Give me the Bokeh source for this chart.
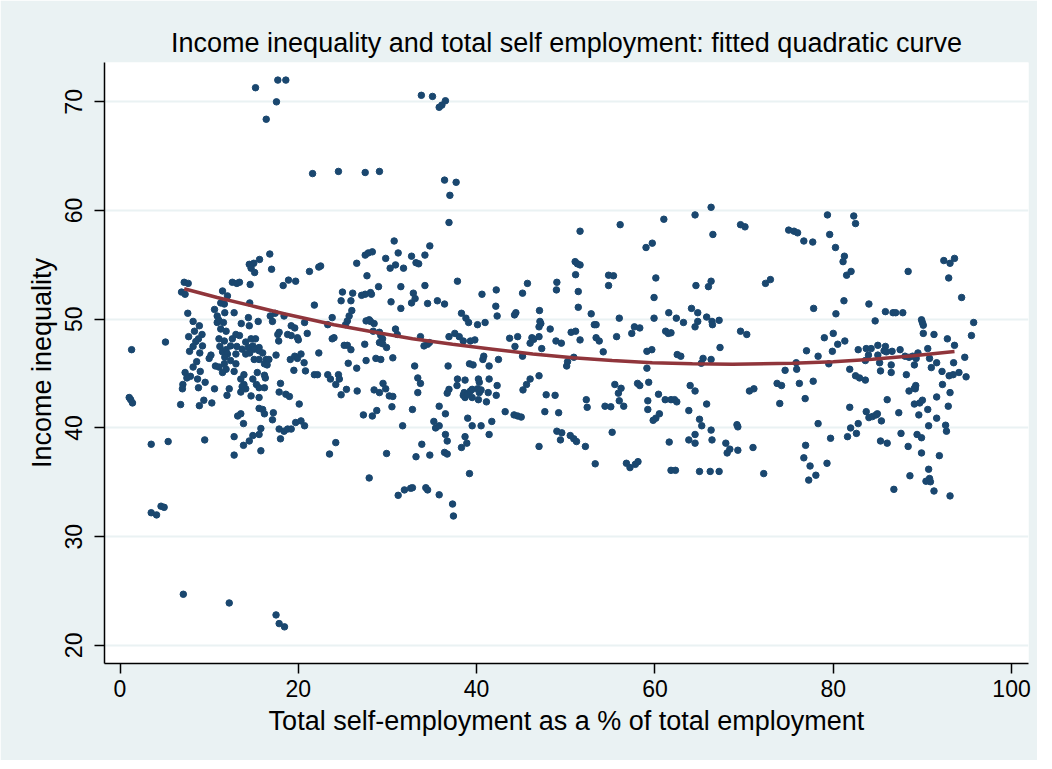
from bokeh.plotting import figure
from bokeh.models import FixedTicker, Range1d
from bokeh.embed import file_html
from bokeh.resources import INLINE

# ---- data (self-employment %, income inequality) ----
top_outliers = [(15.2, 71.3), (17.7, 72.0), (18.6, 72.0), (17.55, 70.0), (16.4, 68.4), (33.8, 70.6),
                (35.05, 70.5), (35.8, 69.5), (36.1, 69.7), (36.5, 70.1), (21.6, 63.4), (24.5, 63.6),
                (27.5, 63.5), (29.1, 63.6), (36.4, 62.8), (37.7, 62.6), (37.0, 61.4), (36.9, 58.9),
                (51.6, 58.1), (56.1, 58.7), (61.0, 59.2), (64.5, 59.6), (66.3, 60.3), (66.5, 57.8)]

group_0_11 = [(7.2, 53.4), (7.65, 53.3), (6.9, 52.5), (7.3, 52.3), (7.6, 50.55), (8.2, 49.8), (8.9, 49.4),
              (8.35, 48.9), (7.7, 48.4), (9.2, 48.6), (8.8, 48.2), (8.5, 47.95), (8.2, 47.5), (9.25, 47.55),
              (7.8, 47.05), (8.95, 46.9), (5.1, 47.9), (1.3, 47.2), (8.6, 46.1), (8.2, 45.6), (7.3, 45.1),
              (7.9, 44.75), (7.5, 44.6), (9.0, 45.2), (8.7, 44.5), (7.05, 44.0), (7.0, 43.6), (9.55, 44.2),
              (8.8, 43.7), (10.0, 46.4), (10.2, 46.7), (10.7, 45.7), (10.6, 43.6), (1.03, 42.8), (1.2, 42.6),
              (1.4, 42.3), (6.8, 42.15), (8.9, 42.05), (9.4, 42.55), (10.3, 42.3), (3.5, 38.5), (5.4, 38.75),
              (9.5, 38.9), (10.6, 50.9), (10.9, 49.7)]

group_11_24 = [(16.8, 56.0), (15.65, 55.5), (14.5, 55.05), (15.0, 55.15), (14.7, 54.7), (15.1, 54.3), (17.0, 54.6),
               (22.5, 54.9), (22.3, 54.8), (21.25, 54.4), (12.6, 53.4), (13.1, 53.3), (13.4, 53.4), (14.6, 53.2),
               (18.9, 53.6), (18.3, 53.1), (19.7, 53.5), (11.5, 52.6), (12.05, 52.15), (11.3, 51.5), (11.7, 51.4),
               (14.55, 51.5), (21.8, 51.3), (12.8, 50.6), (11.75, 50.6), (10.9, 50.3), (11.1, 49.9), (14.4, 50.15),
               (16.85, 50.3), (17.1, 49.8), (18.4, 50.3), (19.2, 49.4), (19.6, 49.2), (20.7, 49.7), (15.5, 49.8),
               (13.6, 49.6), (14.5, 49.4), (11.6, 49.7), (11.3, 49.1), (11.9, 48.9), (17.85, 48.8), (17.7, 48.6),
               (18.8, 48.6), (19.2, 48.5), (19.9, 48.3), (20.0, 48.1), (21.0, 48.7), (17.8, 48.0), (11.1, 48.2),
               (11.7, 48.0), (12.6, 48.2), (13.0, 48.6), (13.4, 48.5), (14.1, 47.9), (14.7, 48.2), (15.2, 48.2),
               (12.4, 47.55), (13.1, 47.5), (11.2, 47.5), (11.5, 47.0), (11.9, 47.2), (14.4, 47.4), (14.9, 47.55),
               (15.6, 47.4), (15.05, 47.25), (13.7, 47.25), (15.6, 47.1), (16.0, 46.9), (12.05, 46.8), (13.0, 46.8),
               (11.75, 46.5), (14.1, 46.8), (14.55, 46.9), (15.05, 46.3), (15.6, 46.3), (16.4, 46.3), (16.7, 46.3),
               (17.5, 46.7), (19.1, 46.3), (19.6, 46.6), (19.9, 46.4), (20.3, 46.8), (22.3, 46.9), (11.7, 45.9),
               (13.0, 45.9), (12.4, 46.2), (16.2, 45.9), (16.5, 45.8), (20.65, 46.0), (11.1, 45.6), (11.9, 45.4),
               (12.8, 45.2), (11.5, 45.1), (15.4, 45.1), (16.2, 44.85), (16.3, 44.6), (13.9, 44.9), (13.55, 44.5),
               (19.5, 45.3), (20.8, 45.25), (21.8, 44.9), (22.15, 44.9), (23.3, 44.9), (23.6, 44.5), (14.9, 44.5),
               (15.3, 44.0), (15.6, 43.7), (13.9, 44.0), (14.1, 43.6), (13.7, 43.8), (13.55, 43.3), (12.25, 43.6),
               (12.0, 43.0), (14.7, 42.95), (15.6, 42.8), (16.2, 43.7), (18.0, 44.1), (17.85, 43.3), (18.6, 43.1),
               (19.0, 42.9), (20.1, 42.2), (13.55, 41.3), (13.2, 41.1), (15.6, 41.8), (16.0, 41.7), (16.2, 41.3),
               (17.2, 41.4), (17.1, 40.75), (19.7, 40.5), (20.3, 40.65), (20.7, 40.2), (13.85, 40.4), (15.8, 39.95),
               (17.85, 39.9), (18.4, 39.7), (18.8, 39.9), (19.2, 39.9), (12.8, 39.2), (14.9, 39.3), (15.6, 39.4),
               (14.5, 38.8), (13.85, 38.4), (18.0, 39.0), (15.8, 37.9), (12.8, 37.5), (23.5, 37.6), (24.2, 38.65),
               (23.8, 48.2), (24.0, 48.3), (23.3, 49.5), (23.8, 50.15), (17.4, 50.55)]

group_24_37 = [(30.75, 57.2), (34.75, 56.75), (27.5, 55.9), (27.85, 56.1), (28.3, 56.2), (26.55, 55.15), (29.8, 55.6),
               (31.2, 56.1), (32.7, 55.8), (34.2, 55.9), (30.9, 55.0), (30.3, 54.7), (31.8, 54.7), (33.2, 55.2),
               (33.5, 55.1), (27.7, 54.0), (29.0, 53.0), (31.5, 53.0), (34.2, 53.1), (24.95, 52.5), (24.8, 51.7),
               (26.1, 52.4), (25.9, 51.7), (27.1, 52.2), (27.5, 52.3), (28.1, 52.45), (28.2, 52.3), (30.4, 51.6),
               (31.5, 51.0), (32.9, 52.4), (33.1, 51.9), (32.7, 51.5), (34.5, 51.45), (35.6, 51.7), (36.4, 51.4),
               (26.0, 50.8), (25.7, 50.3), (25.5, 49.85), (25.3, 49.5), (27.6, 49.85), (27.95, 49.95), (28.5, 49.6),
               (28.1, 49.8), (28.4, 48.9), (29.1, 48.8), (29.25, 48.5), (29.45, 48.2), (29.1, 47.85), (29.45, 47.75),
               (29.9, 47.4), (30.9, 49.1), (31.1, 48.6), (33.7, 48.4), (34.1, 47.55), (34.5, 47.7), (34.7, 47.85),
               (36.9, 48.4), (25.15, 47.6), (25.5, 47.6), (25.9, 47.2), (27.45, 47.7), (27.6, 46.2), (28.7, 46.4),
               (29.25, 46.3), (30.6, 46.45), (25.6, 45.95), (26.55, 45.5), (33.05, 45.7), (36.8, 45.7), (24.5, 44.9),
               (24.6, 44.5), (24.2, 44.0), (33.4, 44.6), (33.7, 44.1), (29.5, 44.1), (29.8, 43.6), (28.5, 43.5),
               (29.1, 43.25), (25.4, 43.55), (24.8, 43.05), (26.6, 43.4), (30.2, 42.95), (30.6, 42.9), (33.4, 43.25),
               (36.9, 43.55), (36.7, 43.2), (30.5, 41.95), (32.8, 41.7), (35.8, 42.0), (36.5, 41.3), (27.3, 41.2),
               (28.3, 41.1), (28.8, 41.6), (31.7, 40.2), (35.2, 40.6), (35.4, 40.0), (35.8, 40.2), (36.5, 39.4),
               (36.7, 38.8), (33.85, 38.5), (29.9, 37.65), (33.2, 37.35), (34.75, 37.5), (36.4, 37.75), (36.7, 37.6)]

low_outliers = [(27.95, 35.4), (31.2, 33.8), (31.9, 34.3), (32.6, 34.45), (32.8, 34.5), (34.3, 34.5), (34.5, 34.3),
                (35.8, 33.85), (3.5, 32.2), (4.1, 32.0), (4.6, 32.8), (4.95, 32.7), (7.1, 24.7), (12.25, 23.9),
                (17.5, 22.8), (17.85, 22.0), (18.45, 21.7), (37.3, 33.0), (37.4, 31.9), (39.2, 35.8)]

group_37_68_upper = [(37.85, 53.5), (38.3, 50.55), (38.8, 50.1), (39.1, 49.7), (40.1, 49.5), (40.95, 49.7), (40.6, 52.3),
                     (42.2, 52.7), (42.15, 51.2), (42.3, 50.3), (37.55, 48.7), (38.05, 48.4), (38.5, 48.0), (39.2, 45.9),
                     (39.6, 45.8), (39.3, 48.0), (39.8, 48.1), (40.8, 46.6), (40.7, 46.3), (41.4, 45.7), (42.45, 46.3),
                     (43.7, 48.25), (44.6, 48.4), (44.3, 47.5), (44.25, 50.4), (44.4, 50.6), (45.15, 52.4), (45.7, 53.3),
                     (45.15, 46.6), (46.2, 48.3), (46.0, 47.8), (46.4, 48.15), (47.0, 48.4), (47.05, 50.8), (47.1, 49.8),
                     (47.0, 49.3), (47.2, 49.6), (47.3, 47.3), (48.25, 49.1), (48.9, 48.0), (49.5, 47.8), (49.0, 53.4),
                     (48.95, 52.7), (50.1, 45.7), (50.2, 46.1), (50.6, 48.8), (51.1, 48.9), (50.9, 46.5), (51.6, 48.1),
                     (51.05, 55.3), (51.3, 55.1), (51.6, 55.0), (51.1, 54.1), (51.4, 52.55), (51.4, 51.1), (52.85, 50.5),
                     (53.2, 49.5), (53.4, 49.5), (53.4, 48.3), (53.75, 48.0), (54.2, 47.0), (54.8, 54.05), (55.35, 54.0),
                     (54.8, 53.1), (56.0, 50.1), (55.7, 48.4), (57.4, 48.7), (57.7, 49.3), (58.3, 49.2), (59.0, 56.6),
                     (59.7, 57.0), (60.1, 53.8), (59.9, 52.0), (59.9, 50.1), (59.1, 47.05), (59.65, 47.2), (59.1, 45.5),
                     (61.2, 48.9), (61.5, 48.7), (61.8, 48.75), (61.55, 50.6), (62.4, 50.1), (63.2, 49.7), (62.5, 46.75),
                     (62.9, 46.6), (64.1, 51.0), (64.8, 50.6), (64.5, 49.3), (64.8, 49.8), (64.6, 53.1), (66.0, 53.0),
                     (66.3, 53.5), (65.8, 50.2), (66.4, 49.8), (66.45, 49.5), (67.2, 49.9), (67.3, 47.4), (65.4, 46.4),
                     (66.3, 46.3), (65.2, 45.95)]

group_37_68_lower = [(37.85, 44.5), (37.8, 43.9), (38.7, 44.4), (38.6, 43.25), (38.5, 43.0), (38.7, 42.8), (39.0, 43.1),
                     (39.3, 43.4), (39.5, 43.55), (40.1, 43.6), (40.3, 43.25), (40.5, 43.5), (40.2, 42.6), (39.5, 42.8),
                     (40.3, 44.2), (40.2, 44.5), (41.4, 44.5), (42.3, 43.9), (41.3, 43.25), (41.1, 42.4), (42.2, 43.0),
                     (41.7, 40.6), (39.0, 40.9), (39.5, 40.2), (40.5, 40.2), (41.4, 39.4), (38.7, 39.2), (38.9, 38.6),
                     (38.3, 38.2), (43.2, 41.5), (44.2, 41.2), (44.6, 41.1), (45.0, 41.0), (45.2, 43.5), (45.6, 44.0),
                     (46.0, 44.5), (47.0, 44.8), (47.8, 43.05), (48.8, 43.0), (47.65, 41.5), (49.2, 41.4), (49.0, 39.7),
                     (49.55, 39.55), (49.4, 38.9), (50.5, 39.3), (50.9, 39.0), (51.2, 38.75), (47.0, 38.3), (52.2, 38.3),
                     (53.3, 36.7), (52.3, 42.6), (52.4, 41.9), (54.4, 42.0), (55.05, 41.95), (55.2, 39.6), (55.5, 44.0),
                     (55.9, 43.2), (56.2, 43.65), (56.0, 42.5), (56.5, 42.0), (56.8, 36.75), (57.2, 36.35), (57.8, 36.65),
                     (58.1, 36.9), (58.05, 44.1), (58.3, 43.9), (59.3, 44.2), (59.2, 42.5), (59.2, 41.7), (60.4, 43.1),
                     (59.8, 40.7), (60.1, 40.9), (60.5, 41.3), (61.15, 42.6), (61.8, 42.6), (62.2, 42.6), (62.45, 42.4),
                     (61.6, 38.7), (61.8, 36.1), (62.3, 36.1), (63.8, 41.6), (63.95, 43.9), (64.5, 43.4), (65.8, 42.2),
                     (65.0, 40.8), (65.25, 40.2), (63.8, 38.9), (64.5, 39.4), (64.5, 38.6), (66.3, 39.8), (66.4, 38.9),
                     (65.0, 36.0), (66.2, 36.0), (67.2, 36.0), (67.95, 38.6), (68.1, 37.7), (68.4, 38.05)]

group_68_96_upper = [(69.6, 58.7), (70.1, 58.5), (75.0, 58.2), (75.6, 58.1), (76.0, 57.95), (76.7, 57.2), (77.7, 57.1),
                     (79.35, 59.6), (79.6, 57.8), (80.25, 56.6), (81.25, 55.8), (81.1, 55.3), (81.5, 54.05), (82.0, 54.4),
                     (82.3, 59.5), (82.5, 58.8), (72.4, 53.3), (72.95, 53.65), (88.4, 54.4), (92.4, 55.4), (93.1, 55.15),
                     (93.6, 55.6), (92.95, 53.8), (94.4, 52.0), (81.2, 51.7), (84.0, 51.4), (77.8, 51.0), (80.3, 50.5),
                     (85.85, 50.7), (86.7, 50.6), (87.0, 50.6), (87.8, 50.6), (84.7, 49.85), (89.9, 49.95), (90.0, 49.7),
                     (90.1, 49.45), (95.75, 49.7), (95.5, 48.5), (69.6, 48.9), (70.3, 48.6), (79.0, 48.3), (80.0, 48.7),
                     (80.5, 47.7), (81.3, 48.0), (79.9, 47.05), (77.0, 47.1), (78.3, 46.6), (90.1, 48.7), (91.3, 48.6),
                     (92.8, 48.2), (93.6, 47.6), (90.6, 47.3), (82.8, 47.2), (83.7, 47.3), (84.25, 47.3), (85.0, 47.6),
                     (85.85, 47.5), (86.6, 47.05), (87.5, 47.2), (83.95, 46.7), (85.0, 46.7), (85.7, 47.1), (85.95, 47.0),
                     (88.05, 46.6), (88.5, 46.5), (88.9, 46.6), (89.5, 46.9), (89.3, 46.4), (90.8, 46.4), (94.75, 46.5),
                     (83.6, 46.2), (85.2, 46.0), (86.5, 45.8), (89.1, 45.8), (91.6, 46.0), (91.0, 45.55), (93.5, 46.0),
                     (75.85, 46.0), (75.9, 45.4), (74.6, 45.3), (79.5, 45.9), (81.85, 45.4), (85.3, 45.25), (86.5, 45.1),
                     (88.2, 44.9), (92.2, 45.2), (94.1, 45.1), (93.0, 44.8), (93.45, 44.9), (94.9, 44.7), (82.5, 44.8),
                     (82.95, 44.6), (83.6, 44.4), (73.7, 44.1), (74.2, 43.9), (76.2, 44.1), (77.75, 44.3), (70.6, 43.4),
                     (71.1, 43.6), (92.25, 44.0), (89.25, 43.9), (89.2, 43.6), (88.5, 43.4), (93.1, 43.25)]

group_68_96_lower = [(74.0, 42.25), (76.85, 42.7), (69.2, 40.3), (69.3, 40.1), (69.3, 37.95), (71.0, 38.2), (72.2, 35.8),
                     (78.3, 40.4), (76.9, 38.4), (76.7, 37.25), (77.4, 36.5), (77.25, 35.2), (78.05, 35.65), (79.3, 36.75),
                     (79.7, 39.05), (81.85, 41.9), (81.95, 40.0), (81.6, 39.2), (82.6, 39.5), (82.8, 40.4), (83.7, 41.5),
                     (84.0, 40.95), (84.4, 41.05), (84.8, 41.2), (84.95, 41.3), (85.4, 40.65), (86.05, 42.6), (87.35, 41.4),
                     (85.3, 38.8), (86.05, 38.6), (87.6, 39.5), (88.4, 38.3), (86.8, 34.35), (88.6, 35.6), (89.1, 43.65),
                     (89.1, 42.2), (89.7, 42.3), (90.0, 42.55), (89.6, 41.2), (90.6, 41.7), (89.4, 39.4), (89.9, 39.1),
                     (89.9, 37.7), (90.7, 40.2), (91.6, 42.85), (92.9, 42.0), (91.6, 40.9), (92.6, 40.25), (92.7, 39.7),
                     (91.9, 37.45), (90.7, 36.2), (90.4, 35.1), (90.8, 35.35), (90.9, 35.05), (91.3, 34.2), (93.1, 33.75)]

# fitted quadratic curve
curve_x = [7.2, 10.9, 14.7, 18.4, 24.0, 28.3, 32.8, 37.3, 41.8, 46.3, 50.8, 55.2, 59.7, 64.2, 68.7, 75.4, 80.0, 84.4, 89.0, 93.6]
curve_y = [52.8, 52.0, 51.25, 50.5, 49.5, 48.85, 48.2, 47.7, 47.25, 46.8, 46.45, 46.2, 46.0, 45.9, 45.87, 45.95, 46.1, 46.33, 46.65, 47.03]

x_ticks = [0, 20, 40, 60, 80, 100]
y_ticks = [20, 30, 40, 50, 60, 70]

title_text = "Income inequality and total self employment: fitted quadratic curve"
x_title = "Total self-employment as a % of total employment"
y_title = "Income inequality"

groups = [top_outliers, group_0_11, group_11_24, group_24_37, low_outliers,
          group_37_68_upper, group_37_68_lower, group_68_96_upper, group_68_96_lower]
xs = [pt[0] for g in groups for pt in g]
ys = [pt[1] for g in groups for pt in g]

BG = "#EAF2F3"
FONT = "Liberation Sans"

p = figure(width=1037, height=760, x_range=Range1d(-1.74, 101.9), y_range=Range1d(18.33, 73.62),
           output_backend="svg", toolbar_location=None,
           min_border_left=104, min_border_right=9, min_border_top=62, min_border_bottom=97)
p.border_fill_color = BG
p.background_fill_color = "white"
p.outline_line_color = None

p.title.text = title_text
p.title.align = "center"
p.title.text_font = FONT
p.title.text_font_size = "27px"
p.title.text_font_style = "normal"
p.title.text_color = "black"

p.xgrid.visible = False
p.ygrid.ticker = FixedTicker(ticks=y_ticks)
p.ygrid.grid_line_color = BG
p.ygrid.grid_line_width = 2

for ax in (p.xaxis[0], p.yaxis[0]):
    ax.axis_line_color = "black"
    ax.axis_line_width = 1.5
    ax.major_tick_line_color = "black"
    ax.major_tick_line_width = 1.5
    ax.major_tick_out = 10
    ax.major_tick_in = 0
    ax.minor_tick_line_color = None
    ax.major_label_text_font = FONT
    ax.major_label_text_font_size = "23px"
    ax.major_label_text_color = "black"
    ax.axis_label_text_font = FONT
    ax.axis_label_text_font_size = "27px"
    ax.axis_label_text_font_style = "normal"
    ax.axis_label_text_color = "black"

p.xaxis.ticker = FixedTicker(ticks=x_ticks)
p.yaxis.ticker = FixedTicker(ticks=y_ticks)
p.yaxis.major_label_orientation = "vertical"
p.xaxis.axis_label = x_title
p.yaxis.axis_label = y_title
p.xaxis.major_label_standoff = 6
p.yaxis.major_label_standoff = 12
p.xaxis.axis_label_standoff = 6
p.yaxis.axis_label_standoff = 6

p.scatter(xs, ys, size=6.5, color="#1a476f", line_color="#1a476f")
p.line(curve_x, curve_y, line_width=3.5, color="#90353b")

open("out.html", "w").write(file_html(p, INLINE))
